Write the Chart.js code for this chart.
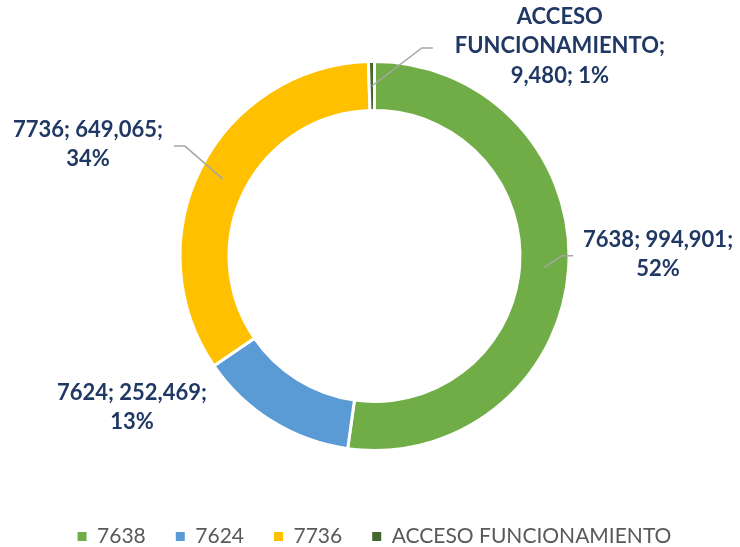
<!DOCTYPE html>
<html lang="es">
<head>
  <meta charset="UTF-8" />
  <title>Distribución</title>
  <script src="https://cdn.jsdelivr.net/npm/chart.js"></script>
  <style>
    html, body { margin: 0; padding: 0; background: #fff; }
    #wrap { width: 740px; height: 547px; }
  </style>
</head>
<body>
  <div id="wrap"><canvas id="donut" width="740" height="547"></canvas></div>

  <script>
    // data
    const categories = ['7638', '7624', '7736', 'ACCESO FUNCIONAMIENTO'];
    const amounts = [994901, 252469, 649065, 9480];
    const percents = [52, 13, 34, 1];
    const sliceColors = ['#70AD47', '#5B9BD5', '#FFC000', '#43682B'];

    // label placement, relative to the middle of each ring segment
    // text: offset of first line centre; leader: elbow and end offsets (null = no line)
    const labelPlacement = [
      { text: [114, -28], leader: [[18, -12], [29, -12]] },
      { text: [-153, -8], leader: null },
      { text: [-135, -49], leader: [[-38, -33], [-49, -33]] },
      { text: [188, -69], leader: [[50, -38], [61, -38]] }
    ];

    const labelFont = 'bold 22px Lato';
    const lineGap = 29.3;

    function labelLines(i) {
      const val = amounts[i].toLocaleString('en-US');
      const name = categories[i];
      if (name.includes(' ')) {
        const parts = name.split(' ');
        parts[parts.length - 1] += ';';
        return [...parts, val + '; ' + percents[i] + '%'];
      }
      return [name + '; ' + val + ';', percents[i] + '%'];
    }

    const sliceLabels = {
      id: 'sliceLabels',
      afterDatasetsDraw(chart) {
        const ctx = chart.ctx;
        const arcs = chart.getDatasetMeta(0).data;
        ctx.save();
        arcs.forEach((arc, i) => {
          const p = arc.getProps(['x', 'y', 'startAngle', 'endAngle', 'innerRadius', 'outerRadius'], true);
          const mid = (p.startAngle + p.endAngle) / 2;
          const rr = (p.innerRadius + p.outerRadius) / 2;
          const ax = p.x + Math.cos(mid) * rr;
          const ay = p.y + Math.sin(mid) * rr;
          const place = labelPlacement[i];
          if (place.leader) {
            ctx.strokeStyle = '#A6A6A6';
            ctx.lineWidth = 1.5;
            ctx.beginPath();
            ctx.moveTo(ax, ay);
            place.leader.forEach(pt => ctx.lineTo(ax + pt[0], ay + pt[1]));
            ctx.stroke();
          }
          ctx.fillStyle = '#203864';
          ctx.font = labelFont;
          ctx.textAlign = 'center';
          ctx.textBaseline = 'middle';
          labelLines(i).forEach((line, k) => {
            ctx.fillText(line, ax + place.text[0], ay + place.text[1] + k * lineGap);
          });
        });
        ctx.restore();
      }
    };

    new Chart(document.getElementById('donut'), {
      type: 'doughnut',
      data: {
        labels: categories,
        datasets: [{
          data: amounts,
          backgroundColor: sliceColors,
          borderColor: '#FFFFFF',
          borderWidth: 3
        }]
      },
      options: {
        responsive: false,
        animation: false,
        radius: 194.5,
        cutout: '74.8%',
        layout: { padding: { left: 9, right: 0, top: 16, bottom: -10 } },
        plugins: {
          tooltip: { enabled: false },
          legend: {
            position: 'bottom',
            labels: {
              boxWidth: 9,
              boxHeight: 9,
              padding: 30,
              color: '#595959',
              font: { family: 'Lato', size: 21 },
              generateLabels(chart) {
                return Chart.overrides.doughnut.plugins.legend.labels.generateLabels(chart)
                  .map(l => Object.assign(l, { lineWidth: 0, strokeStyle: l.fillStyle }));
              }
            }
          }
        }
      },
      plugins: [sliceLabels]
    });
  </script>
</body>
</html>
